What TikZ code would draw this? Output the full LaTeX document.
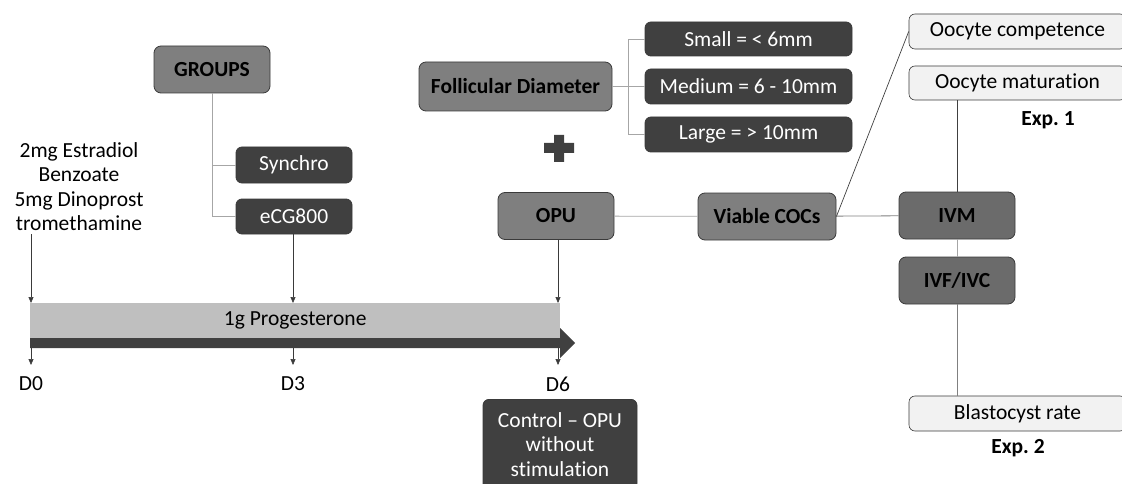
\documentclass[tikz,border=0pt]{standalone}
\usepackage{fontspec}
\setmainfont{Carlito}[Ligatures=NoCommon]
\usetikzlibrary{arrows.meta,positioning}
\definecolor{keret}{HTML}{3A3A3A}
\definecolor{kozepszurke}{HTML}{7F7F7F}
\definecolor{ivszurke}{HTML}{6B6B6B}
\definecolor{sotetszurke}{HTML}{404040}
\definecolor{vilagosszurke}{HTML}{F2F2F2}
\definecolor{savszurke}{HTML}{BFBFBF}
\definecolor{vonalszurke}{HTML}{A6A6A6}
\newcommand{\meret}{\fontsize{21.5}{24.5}\selectfont}
\tikzset{
  kozep/.style={draw=keret,fill=kozepszurke,rounded corners=7pt,line width=0.8pt,
    font=\meret\bfseries,minimum height=47pt},
  sotet/.style={draw=keret,fill=sotetszurke,text=white,rounded corners=6pt,
    line width=0.8pt,font=\meret,minimum height=35pt},
  vilagos/.style={draw=keret,fill=vilagosszurke,rounded corners=6pt,line width=0.6pt,
    font=\meret,minimum height=35pt,minimum width=217pt},
  vonal/.style={draw=vonalszurke,line width=0.8pt},
  svonal/.style={draw=sotetszurke,line width=0.7pt},
  nyil/.style={-{Triangle[length=6pt,width=5pt]},line width=0.6pt,draw=keret},
}

\begin{document}
\begin{tikzpicture}[x=1pt,y=-1pt,font=\meret]
  \clip (0,0) rectangle (1122,484);
  % left: treatment and groups
  \node[align=center] (kezel) at (79,186.5) {2mg Estradiol\\Benzoate\\5mg Dinoprost\\tromethamine};
  \node[kozep,minimum width=116pt] (groups) at (212,69.5) {GROUPS};
  \node[sotet,minimum width=116pt,minimum height=36pt] (synchro) at (294,165) {Synchro};
  \node[sotet,minimum width=116pt] (ecg) at (294,216.5) {eCG800};
  \draw[vonal] (groups.south) |- (synchro.west);
  \draw[vonal] (groups.south) |- (ecg.west);

  % follicles
  \node[kozep,minimum width=193pt,minimum height=49pt] (foll) at (515.5,86.5) {Follicular Diameter};
  \node[sotet,minimum width=207pt,minimum height=34pt] (kicsi) at (748.5,39) {Small = < 6mm};
  \node[sotet,minimum width=207pt] (kozepes) at (748.5,86.5) {Medium = 6 - 10mm};
  \node[sotet,minimum width=207pt] (nagy) at (748.5,134.5) {Large = > 10mm};
  \coordinate (ag) at (628,86.5);
  \draw[vonal] (foll) -- (ag) (ag) |- (kicsi) (ag) -- (kozepes) (ag) |- (nagy);
  \fill[sotetszurke] (544,143) rectangle (574,153) (554,135) rectangle (564,162);

  % OPU and lab
  \node[kozep,minimum width=116pt] (opu) at (556,216) {OPU};
  \node[kozep,minimum width=138pt] (viable) at (767,216.5) {Viable COCs};
  \node[kozep,fill=ivszurke,minimum width=116pt] (ivm) at (957,215.5) {IVM};
  \node[kozep,fill=ivszurke,minimum width=116pt] (ivf) at (957,280.5) {IVF/IVC};
  \node[vilagos] (comp) at (1017.5,31.5) {Oocyte competence};
  \node[vilagos,minimum height=34pt] (matur) at (1017.5,83) {Oocyte maturation};
  \node[vilagos] (blast) at (1017.5,413.5) {Blastocyst rate};
  \node[font=\meret\bfseries] (exp1) at (1048,120) {Exp.\ 1};
  \node[font=\meret\bfseries] (exp2) at (1018,448) {Exp.\ 2};
  \draw[vonal] (opu) -- (viable);
  \draw[vonal,draw=gray] (viable) -- (ivm);
  \draw[svonal] (viable.east) -- (comp.west);
  \draw[svonal] (ivm) -- (ivm |- matur.south);
  \draw[vonal] (ivm) -- (ivf);
  \draw[vonal,draw=gray] (ivf) -- (ivf |- blast.north);

  % timeline
  \coordinate (t0) at (31,303);
  \coordinate (t3) at (293,303);
  \coordinate (t6) at (558,303);
  \draw[nyil] (kezel.south -| t0) -- (t0);
  \draw[nyil] (ecg.south -| t3) -- (t3);
  \draw[nyil] (opu.south -| t6) -- (t6);
  \foreach \x/\n in {31/0,293/3,558/6} {
    \draw[nyil] (\x,345) -- (\x,365);
    \node (d\n) at (\x,384) {D\n};
  }
  \node[fill=savszurke,minimum width=530pt,minimum height=35pt,inner sep=0pt,anchor=north west] (prog) at (30,303) {1g Progesterone};
  \fill[sotetszurke] (30,338) -- (560,338) -- (560,328) -- (575,343) -- (560,358)
    -- (560,348) -- (30,348) -- cycle;
  \node[sotet,align=center,minimum width=154pt,minimum height=90pt,anchor=north] (kontroll) at (560,399) {Control -- OPU\\without\\stimulation};
\end{tikzpicture}
\end{document}
